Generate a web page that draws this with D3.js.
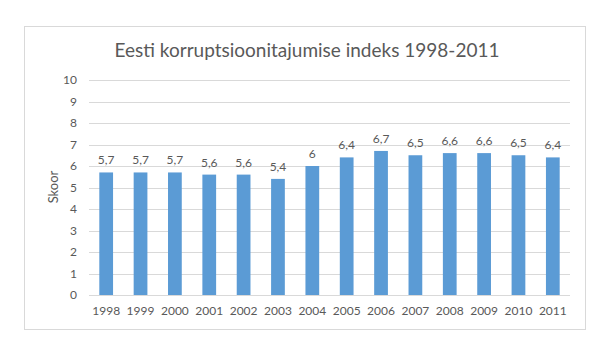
<!DOCTYPE html>
<html>
<head>
<meta charset="utf-8">
<script src="https://cdn.jsdelivr.net/npm/d3@7"></script>
<style>
  body { margin: 0; background: #fff; }
  text { font-family: Lato, "Open Sans", sans-serif; fill: #595959; }
</style>
</head>
<body>
<div id="chart"></div>
<script>
// values
let years = ["1998", "1999", "2000", "2001", "2002", "2003", "2004",
             "2005", "2006", "2007", "2008", "2009", "2010", "2011"];
let scores = [5.7, 5.7, 5.7, 5.6, 5.6, 5.4, 6, 6.4, 6.7, 6.5, 6.6, 6.6, 6.5, 6.4];
let yTicks = [0, 1, 2, 3, 4, 5, 6, 7, 8, 9, 10];

let svgWidth = 612;
let svgHeight = 352;

let svg = d3.select('#chart')
  .append('svg')
  .attr('width', svgWidth)
  .attr('height', svgHeight);

// outer chart frame
svg.append('rect')
  .attr('x', 24.5).attr('y', 26.5)
  .attr('width', 561).attr('height', 303)
  .attr('fill', '#fff')
  .attr('stroke', '#d9d9d9');

svg.append('text')
  .attr('x', 307).attr('y', 57)
  .attr('text-anchor', 'middle')
  .style('font-size', '19px')
  .text('Eesti korruptsioonitajumise indeks 1998-2011');

let x = d3.scaleBand()
  .domain(years)
  .range([89, 570])
  .paddingInner(0.6)
  .paddingOuter(0.3);

let y = d3.scaleLinear()
  .domain([0, 10])
  .range([295, 80]);

// gridlines
svg.append('g')
  .selectAll('line')
  .data(yTicks)
  .enter()
  .append('line')
  .attr('x1', 89).attr('x2', 570)
  .attr('y1', d => Math.round(y(d)) + 0.5)
  .attr('y2', d => Math.round(y(d)) + 0.5)
  .attr('stroke', '#d9d9d9');

// y axis labels
let yAxis = svg.append('g')
  .attr('transform', 'translate(77,0)')
  .call(d3.axisLeft(y).tickValues(yTicks).tickSize(0).tickPadding(0));
yAxis.select('.domain').remove();
yAxis.selectAll('text').style('font-size', '12px').attr('fill', '#595959');

svg.append('g')
  .selectAll('rect')
  .data(scores)
  .enter()
  .append('rect')
  .attr('x', (d, i) => x(years[i]))
  .attr('width', x.bandwidth())
  .attr('y', d => y(d))
  .attr('height', d => y(0) - y(d))
  .attr('fill', '#5b9bd5');

// baseline over the bars
svg.append('line')
  .attr('x1', 89).attr('x2', 570)
  .attr('y1', 295.5).attr('y2', 295.5)
  .attr('stroke', '#d9d9d9');

// value labels
svg.append('g')
  .selectAll('text')
  .data(scores)
  .enter()
  .append('text')
  .attr('x', (d, i) => x(years[i]) + x.bandwidth() / 2)
  .attr('y', d => y(d) - 8)
  .attr('text-anchor', 'middle')
  .style('font-size', '12px')
  .attr('fill', '#404040')
  .text(d => String(d).replace('.', ','));

// x axis labels
let xAxis = svg.append('g')
  .attr('transform', 'translate(0,300)')
  .call(d3.axisBottom(x).tickSize(0).tickPadding(6));
xAxis.select('.domain').remove();
xAxis.selectAll('text').style('font-size', '12px').attr('fill', '#595959');

svg.append('text')
  .attr('transform', 'translate(58,187) rotate(-90)')
  .attr('text-anchor', 'middle')
  .style('font-size', '13px')
  .text('Skoor');
</script>
</body>
</html>
